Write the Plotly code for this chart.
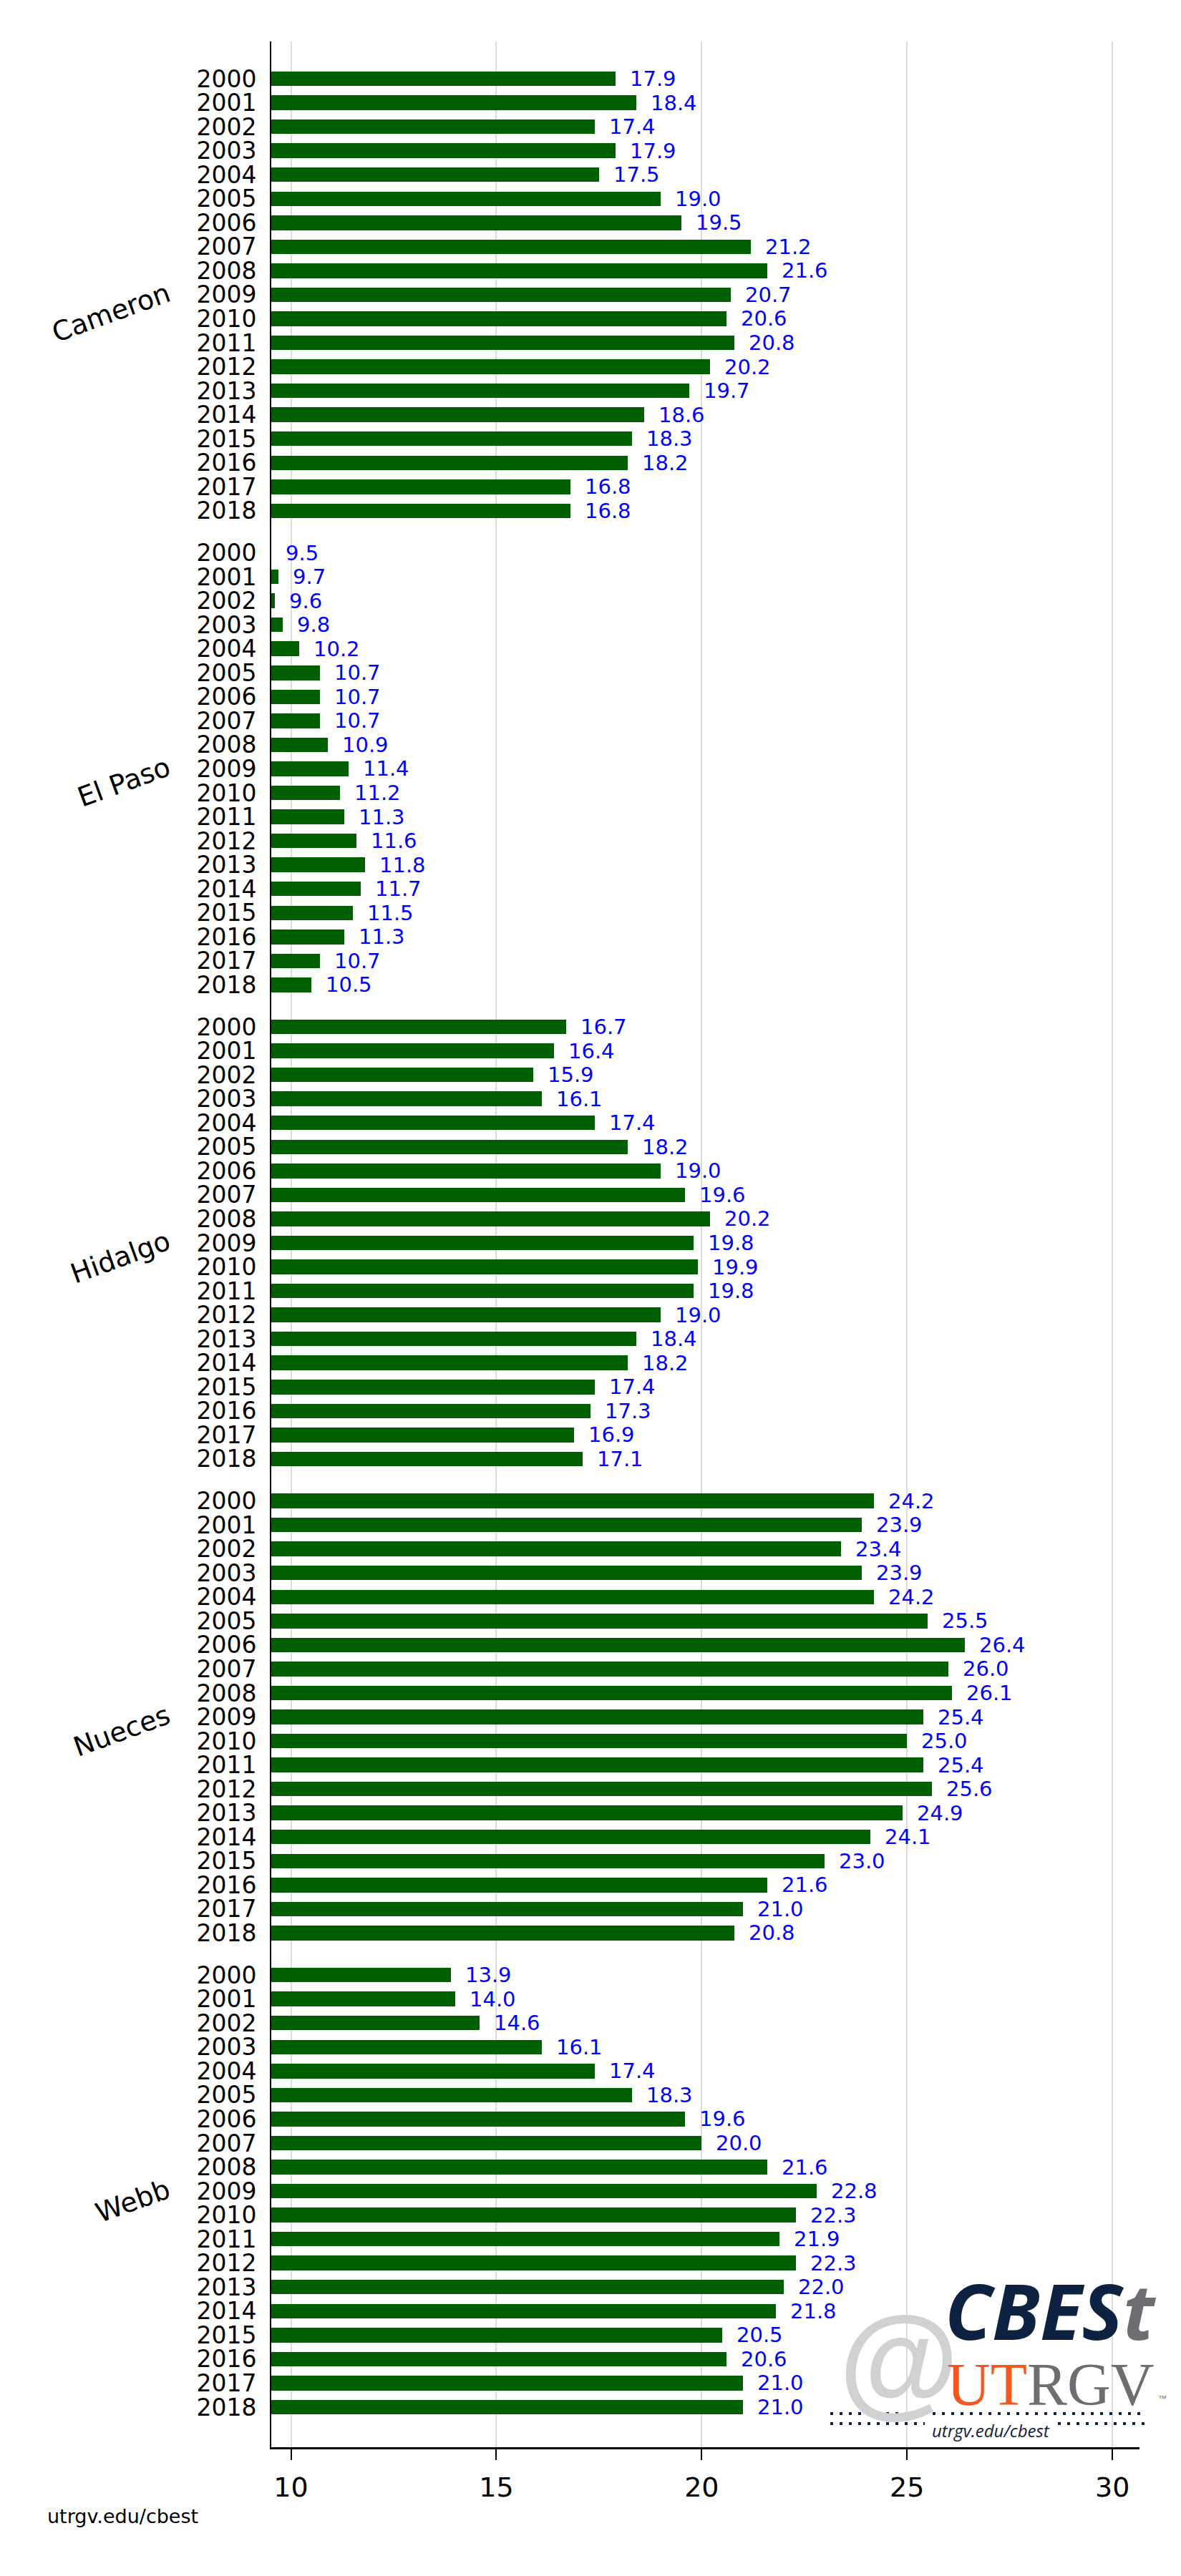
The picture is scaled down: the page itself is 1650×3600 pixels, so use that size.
import plotly.graph_objects as go

# ---------------- data ----------------
counties = ["Cameron", "El Paso", "Hidalgo", "Nueces", "Webb"]
years = ["2000", "2001", "2002", "2003", "2004", "2005", "2006", "2007", "2008", "2009",
         "2010", "2011", "2012", "2013", "2014", "2015", "2016", "2017", "2018"]

cameron = [17.9, 18.4, 17.4, 17.9, 17.5, 19.0, 19.5, 21.2, 21.6, 20.7,
           20.6, 20.8, 20.2, 19.7, 18.6, 18.3, 18.2, 16.8, 16.8]
el_paso = [9.5, 9.7, 9.6, 9.8, 10.2, 10.7, 10.7, 10.7, 10.9, 11.4,
           11.2, 11.3, 11.6, 11.8, 11.7, 11.5, 11.3, 10.7, 10.5]
hidalgo = [16.7, 16.4, 15.9, 16.1, 17.4, 18.2, 19.0, 19.6, 20.2, 19.8,
           19.9, 19.8, 19.0, 18.4, 18.2, 17.4, 17.3, 16.9, 17.1]
nueces = [24.2, 23.9, 23.4, 23.9, 24.2, 25.5, 26.4, 26.0, 26.1, 25.4,
          25.0, 25.4, 25.6, 24.9, 24.1, 23.0, 21.6, 21.0, 20.8]
webb = [13.9, 14.0, 14.6, 16.1, 17.4, 18.3, 19.6, 20.0, 21.6, 22.8,
        22.3, 21.9, 22.3, 22.0, 21.8, 20.5, 20.6, 21.0, 21.0]

x_ticks = [10, 15, 20, 25, 30]

series = [cameron, el_paso, hidalgo, nueces, webb]

# ---------------- layout helpers ----------------
FONT = "DejaVu Sans, Liberation Sans, Arial, sans-serif"
GROUP_GAP = 1.75           # extra slots between county groups
BAR_W = 0.61
X0, X1 = 9.52, 30.66
n = len(years)
period = (n - 1) + GROUP_GAP

W, H = 1650, 3600
ML, MR, MT, MB = 379, 58, 58, 180
PW, PH = W - ML - MR, H - MT - MB


def px_x(px):
    return (px - ML) / PW


def px_y(py):
    return (H - MB - py) / PH


pos_all, val_all, tick_text = [], [], []
group_centers = []
for g, vals in enumerate(series):
    base = g * period
    group_centers.append(base + (n - 1) / 2)
    for i, v in enumerate(vals):
        pos_all.append(base + i)
        val_all.append(v)
        tick_text.append(years[i])

last = pos_all[-1]

fig = go.Figure()
fig.add_trace(go.Bar(
    x=val_all, y=pos_all, orientation="h", width=BAR_W,
    marker=dict(color="#005f00", line=dict(width=0)),
    showlegend=False, hoverinfo="x+y",
))

annotations = []
# value labels
for p, v in zip(pos_all, val_all):
    annotations.append(dict(
        x=max(v, X0), y=p, xref="x", yref="y", text=f"{v:.1f}", showarrow=False,
        xanchor="left", yanchor="middle", xshift=18,
        font=dict(family=FONT, size=29, color="#0000ff"),
    ))
# county labels
for name, c in zip(counties, group_centers):
    annotations.append(dict(
        x=px_x(246), y=c, xref="paper", yref="y", text=name, showarrow=False,
        xanchor="right", yanchor="top", yshift=28, textangle=-20,
        font=dict(family=FONT, size=38, color="black"),
    ))
# footer
annotations.append(dict(
    x=px_x(64), y=px_y(3516), xref="paper", yref="paper", text="utrgv.edu/cbest",
    showarrow=False, xanchor="left", yanchor="middle",
    font=dict(family=FONT, size=27, color="black"),
))
# logo (text approximation)
NAVY, GREY, ORANGE = "#0d2240", "#6d6e71", "#f4581f"
annotations += [
    dict(x=px_x(1256), y=px_y(3298), xref="paper", yref="paper", text="<b>@</b>",
         showarrow=False, xanchor="center", yanchor="middle",
         font=dict(family="Liberation Sans, Arial, sans-serif", size=172, color="#d0d1d3")),
    dict(x=px_x(1618), y=px_y(3228), xref="paper", yref="paper",
         text=f"<b><i><span style='color:{NAVY}'>CBES</span><span style='color:{GREY}'>t</span></i></b>",
         showarrow=False, xanchor="right", yanchor="middle",
         font=dict(family="Open Sans, sans-serif", size=108, color=NAVY)),
    dict(x=px_x(1614), y=px_y(3332), xref="paper", yref="paper",
         text=f"<span style='color:{ORANGE}'>UT</span><span style='color:{GREY}'>RGV</span>",
         showarrow=False, xanchor="right", yanchor="middle",
         font=dict(family="Liberation Serif, serif", size=84, color=GREY)),
    dict(x=px_x(1624), y=px_y(3352), xref="paper", yref="paper", text="™",
         showarrow=False, xanchor="center", yanchor="middle",
         font=dict(family="Liberation Sans, Arial, sans-serif", size=12, color=GREY)),
    dict(x=px_x(1384), y=px_y(3396), xref="paper", yref="paper",
         text="<i>utrgv.edu/cbest</i>", showarrow=False, xanchor="center", yanchor="middle",
         font=dict(family="Open Sans, sans-serif", size=24, color=NAVY)),
]

dot_line = dict(color=NAVY, width=4, dash="4px,9px")
shapes = [
    dict(type="line", xref="paper", yref="paper", x0=px_x(1160), x1=px_x(1600),
         y0=px_y(3373), y1=px_y(3373), line=dot_line),
    dict(type="line", xref="paper", yref="paper", x0=px_x(1160), x1=px_x(1292),
         y0=px_y(3387), y1=px_y(3387), line=dot_line),
    dict(type="line", xref="paper", yref="paper", x0=px_x(1478), x1=px_x(1600),
         y0=px_y(3387), y1=px_y(3387), line=dot_line),
]

fig.update_layout(
    width=W, height=H, autosize=False,
    margin=dict(l=ML, r=MR, t=MT, b=MB, pad=0),
    paper_bgcolor="white", plot_bgcolor="white",
    font=dict(family=FONT, color="black"),
    bargap=0,
    annotations=annotations,
    shapes=shapes,
)
fig.update_xaxes(
    range=[X0, X1], tickmode="array", tickvals=x_ticks,
    ticktext=[str(t) for t in x_ticks],
    ticks="outside", ticklen=15, tickwidth=2, tickcolor="black",
    showgrid=True, gridcolor="#dcdcdc", gridwidth=2,
    showline=True, linecolor="black", linewidth=3, zeroline=False,
    tickfont=dict(family=FONT, size=38, color="black"),
    ticklabelstandoff=5, automargin=False,
)
fig.update_yaxes(
    range=[last + 1.67, -1.55], tickmode="array", tickvals=pos_all, ticktext=tick_text,
    ticks="", showgrid=False, zeroline=False,
    showline=True, linecolor="black", linewidth=2,
    tickfont=dict(family=FONT, size=33, color="black"),
    ticklabelstandoff=12, automargin=False,
)

fig.write_html("out.html")
